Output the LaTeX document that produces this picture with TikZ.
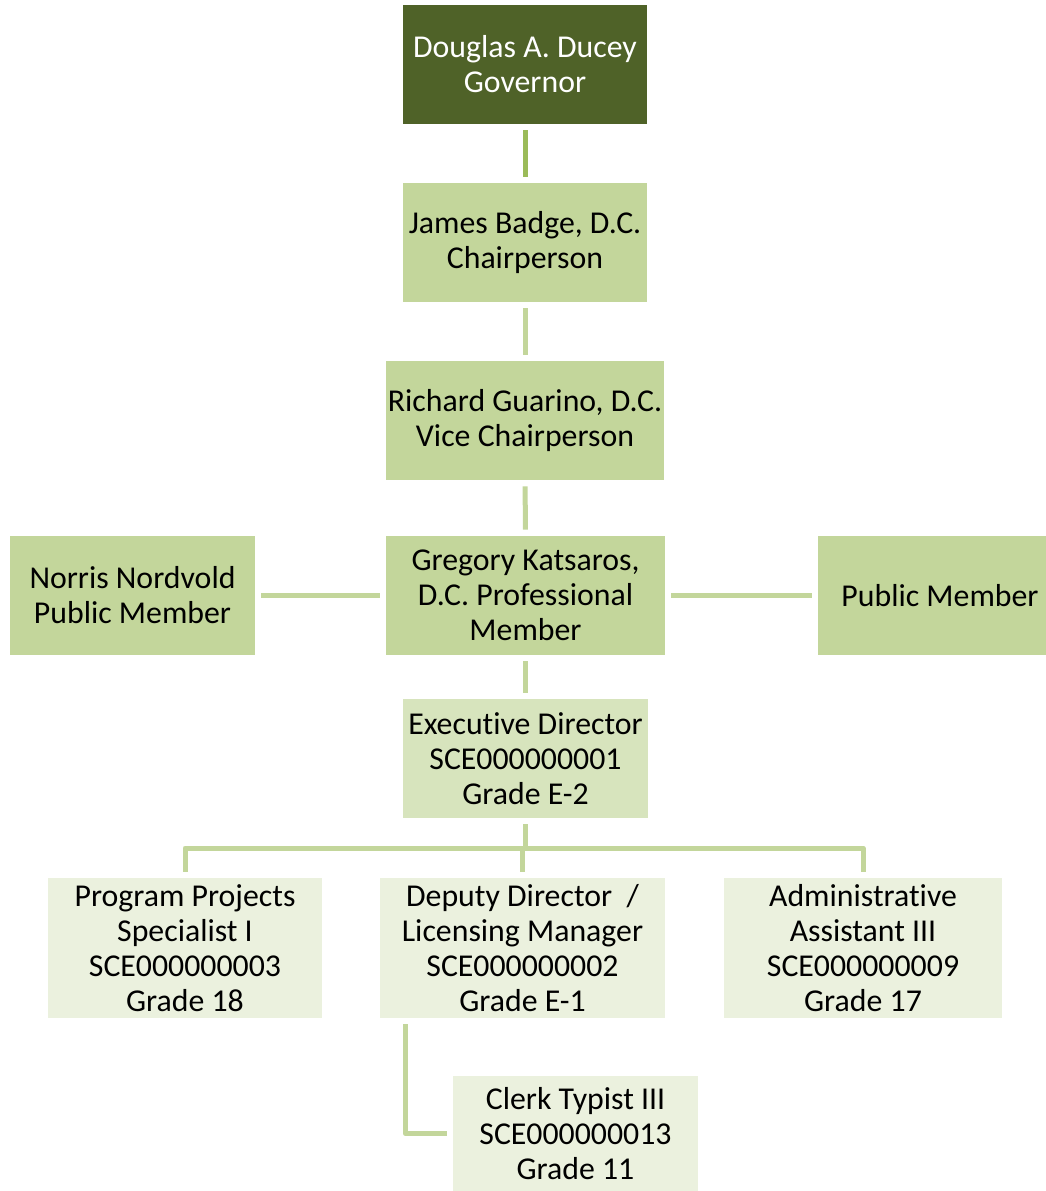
\documentclass[tikz,border=0pt]{standalone}
\usepackage{fontspec}
\setmainfont{Carlito}[Ligatures=NoCommon]
\usepackage{tikz}
\usetikzlibrary{positioning}
\definecolor{govgreen}{HTML}{4F6228}
\definecolor{boardgreen}{HTML}{C3D69B}
\definecolor{execgreen}{HTML}{D7E4BD}
\definecolor{staffgreen}{HTML}{EBF1DE}
\definecolor{linkgreen}{HTML}{C3D69B}
\definecolor{toplinkgreen}{HTML}{9BBB59}

\begin{document}
\begin{tikzpicture}[
  box/.style={rectangle, inner sep=0pt, align=center, font=\fontsize{18.1}{19.9}\selectfont, minimum height=2.38cm},
  govbox/.style={box, fill=govgreen, text=white},
  boardbox/.style={box, fill=boardgreen},
  execbox/.style={box, fill=execgreen},
  staffbox/.style={box, fill=staffgreen, minimum height=2.8cm},
  link/.style={linkgreen, line width=0.1cm, line join=round, shorten <=0.12cm, shorten >=0.12cm}
]
\useasboundingbox (0cm,0cm) rectangle (20.9cm,-23.82cm);
\node[govbox, minimum width=4.88cm] (gov) at (10.5cm,-1.29cm) {Douglas A. Ducey\\Governor};
\node[boardbox, minimum width=4.88cm] (chair) at (10.5cm,-4.85cm) {James Badge, D.C.\\Chairperson};
\node[boardbox, minimum width=5.56cm] (vice) at (10.5cm,-8.41cm) {Richard Guarino, D.C.\\Vice Chairperson};
\node[boardbox, minimum width=5.58cm] (prof) at (10.51cm,-11.91cm) {Gregory Katsaros,\\D.C. Professional\\Member};
\node[boardbox, minimum width=4.9cm] (norris) at (2.65cm,-11.91cm) {Norris Nordvold\\Public Member};
\node[boardbox, minimum width=4.88cm] (public) at (18.8cm,-11.91cm) {Public Member};
\node[execbox, minimum width=4.9cm] (exec) at (10.51cm,-15.17cm) {Executive Director\\SCE000000001\\Grade E-2};
\node[staffbox, minimum width=5.48cm] (pps) at (3.7cm,-18.96cm) {Program Projects\\Specialist I\\SCE000000003\\Grade 18};
\node[staffbox, minimum width=5.7cm] (deputy) at (10.45cm,-18.96cm) {Deputy Director~ /\\Licensing Manager\\SCE000000002\\Grade E-1};
\node[staffbox, minimum width=5.56cm] (admin) at (17.26cm,-18.96cm) {Administrative\\Assistant III\\SCE000000009\\Grade 17};
\node[staffbox, minimum width=4.9cm, minimum height=2.3cm] (clerk) at (11.51cm,-22.67cm) {Clerk Typist III\\SCE000000013\\Grade 11};
\coordinate (bus) at (10.51cm,-16.96cm);

\draw[link, toplinkgreen] (gov) -- (chair);
\draw[link] (chair) -- (vice);
\draw[link] (vice) -- (prof);
\draw[link] (prof) -- (norris);
\draw[link] (prof) -- (public);
\draw[link] (prof) -- (exec);
\draw[link, shorten >=0pt] (exec.south) -- (bus);
\draw[link] (pps.north) |- (bus) -| (admin.north);
\draw[link, shorten <=0pt] (deputy.north |- bus) -- (deputy.north);
\draw[link] ([xshift=0.51cm]deputy.south west) |- (clerk.west);
\end{tikzpicture}
\end{document}
